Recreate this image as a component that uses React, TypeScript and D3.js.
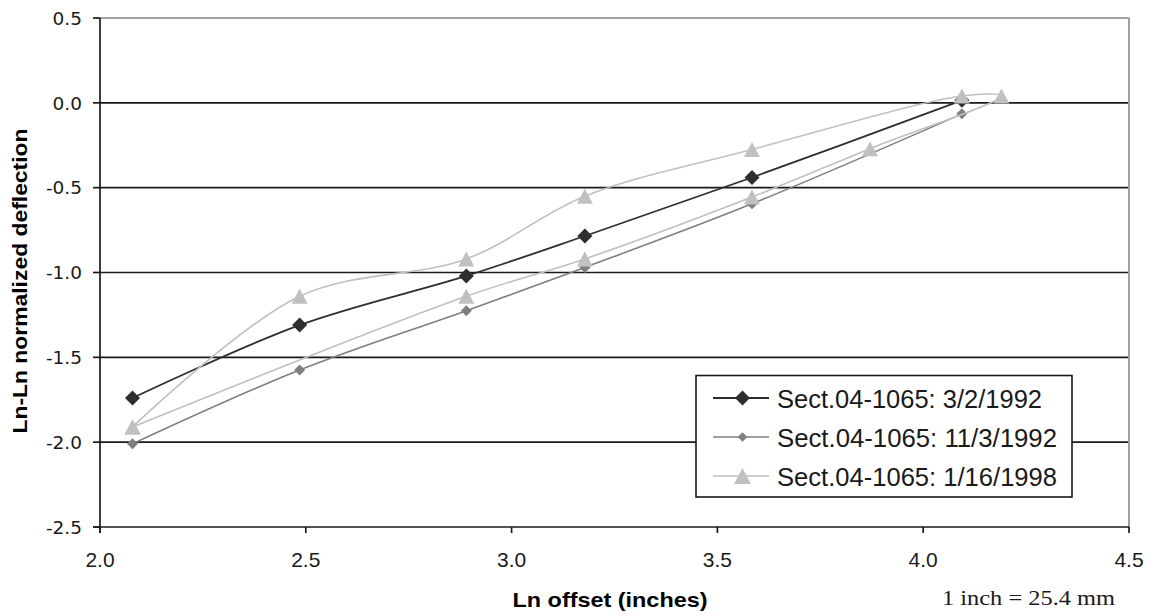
import React from 'react';
import * as d3 from 'd3';

const xTicks = [2.0, 2.5, 3.0, 3.5, 4.0, 4.5];
const yTicks = [0.5, 0.0, -0.5, -1.0, -1.5, -2.0, -2.5];

const seriesNames = [
  'Sect.04-1065: 3/2/1992',
  'Sect.04-1065: 11/3/1992',
  'Sect.04-1065: 1/16/1998',
];

const s1X = [2.079, 2.485, 2.89, 3.178, 3.584, 4.094];
const s1Y = [-1.74, -1.31, -1.02, -0.785, -0.44, 0.015];

const s2X = [2.079, 2.485, 2.89, 3.178, 3.584, 4.094];
const s2Y = [-2.01, -1.575, -1.225, -0.97, -0.595, -0.065];

const s3X = [2.079, 2.485, 2.89, 3.178, 3.584, 4.094, 4.19, 3.871, 3.584, 3.178, 2.89, 2.079];
const s3Y = [-1.91, -1.14, -0.92, -0.55, -0.275, 0.04, 0.04, -0.27, -0.555, -0.92, -1.14, -1.91];

const xTitle = 'Ln offset (inches)';
const yTitle = 'Ln-Ln normalized deflection';
const note = '1 inch = 25.4 mm';

const W = 1150;
const H = 616;
const L = 100;
const R = 1129;
const T = 18;
const B = 527;

const x = d3.scaleLinear().domain([2, 4.5]).range([L, R]);
const y = d3.scaleLinear().domain([-2.5, 0.5]).range([B, T]);

const line = d3
  .line<[number, number]>()
  .x((d) => x(d[0]))
  .y((d) => y(d[1]))
  .curve(d3.curveCatmullRom.alpha(0.5));

const zip = (xs: number[], ys: number[]) => xs.map((v, i) => [v, ys[i]] as [number, number]);

const diamond = (cx: number, cy: number, r: number) =>
  `M${cx},${cy - r}L${cx + r},${cy}L${cx},${cy + r}L${cx - r},${cy}Z`;
const triangle = (cx: number, cy: number, hw: number, hh: number) =>
  `M${cx},${cy - hh}L${cx + hw},${cy + hh}L${cx - hw},${cy + hh}Z`;

const C1 = '#2e2e2e';
const C2 = '#7f7f7f';
const C3 = '#c0c0c0';

const fmt = (v: number) => d3.format('.1f')(v).replace('\u2212', '-');

export default function App() {
  const d1 = zip(s1X, s1Y);
  const d2 = zip(s2X, s2Y);
  const d3s = zip(s3X, s3Y);

  const legX = 696;
  const legY = 375.5;
  const legW = 376;
  const legH = 121.5;
  const rowY = [398, 437, 476];

  return (
    <div style={{ position: 'fixed', left: 0, top: 0, width: W, height: H, background: '#fff' }}>
      <svg width={W} height={H} style={{ display: 'block' }}>
        <rect x={0} y={0} width={W} height={H} fill="#fff" />
        {yTicks
          .filter((t) => t > -2.5 && t < 0.5)
          .map((t) => (
            <line key={'g' + t} x1={L} x2={R} y1={y(t)} y2={y(t)} stroke="#1a1a1a" strokeWidth={1.7} />
          ))}
        <line x1={L} x2={R} y1={T} y2={T} stroke="#a0a0a0" strokeWidth={2} />
        <line x1={R} x2={R} y1={T} y2={B} stroke="#a0a0a0" strokeWidth={2} />
        <line x1={L} x2={L} y1={T} y2={B + 6} stroke="#1a1a1a" strokeWidth={1.7} />
        <line x1={L - 7} x2={R} y1={B} y2={B} stroke="#1a1a1a" strokeWidth={1.7} />
        {yTicks.map((t) => (
          <g key={'yt' + t}>
            <line x1={L - 7} x2={L} y1={y(t)} y2={y(t)} stroke="#1a1a1a" strokeWidth={1.7} />
            <text
              x={82}
              y={y(t) + 6.7}
              textAnchor="end"
              fontFamily="DejaVu Sans"
              fontSize={18.5}
              fill="#1a1a1a"
            >
              {fmt(t)}
            </text>
          </g>
        ))}
        {xTicks.map((t) => (
          <g key={'xt' + t}>
            <line x1={x(t)} x2={x(t)} y1={B} y2={B + 6} stroke="#1a1a1a" strokeWidth={1.7} />
            <text
              x={x(t)}
              y={567}
              textAnchor="middle"
              fontFamily="Liberation Sans, Arial"
              fontSize={21}
              fill="#1a1a1a"
            >
              {fmt(t)}
            </text>
          </g>
        ))}
        <path d={line(d1) || ''} fill="none" stroke={C1} strokeWidth={1.8} />
        {d1.map((d, i) => (
          <path key={'m1' + i} d={diamond(x(d[0]), y(d[1]), 7.5)} fill={C1} />
        ))}
        <path d={line(d2) || ''} fill="none" stroke={C2} strokeWidth={1.6} />
        {d2.map((d, i) => (
          <path key={'m2' + i} d={diamond(x(d[0]), y(d[1]), 5.5)} fill={C2} />
        ))}
        <path d={line(d3s) || ''} fill="none" stroke={C3} strokeWidth={1.6} />
        {d3s.map((d, i) => (
          <path key={'m3' + i} d={triangle(x(d[0]), y(d[1]), 8, 7.5)} fill={C3} />
        ))}
        <rect x={legX} y={legY} width={legW} height={legH} fill="#fff" stroke="#1a1a1a" strokeWidth={1.6} />
        {seriesNames.map((n, i) => {
          const cy = rowY[i];
          const col = [C1, C2, C3][i];
          return (
            <g key={'lg' + i}>
              <line x1={713} x2={769} y1={cy} y2={cy} stroke={col} strokeWidth={i === 0 ? 1.8 : 1.6} />
              {i === 0 && <path d={diamond(742.5, cy, 7.5)} fill={C1} />}
              {i === 1 && <path d={diamond(742.5, cy, 4.8)} fill={C2} />}
              {i === 2 && <path d={triangle(742.5, cy, 8.5, 8)} fill={C3} />}
              <text
                x={777}
                y={cy + 9.5}
                fontFamily="Liberation Sans, Arial"
                fontSize={25.5}
                fill="#1a1a1a"
                textLength={i === 0 ? 265 : 280}
                lengthAdjust="spacingAndGlyphs"
              >
                {n}
              </text>
            </g>
          );
        })}
        <text
          x={610}
          y={607}
          textAnchor="middle"
          fontFamily="Liberation Sans, Arial"
          fontWeight="bold"
          fontSize={21}
          fill="#000"
          textLength={195}
          lengthAdjust="spacingAndGlyphs"
        >
          {xTitle}
        </text>
        <text
          transform="translate(26.5,281) rotate(-90)"
          textAnchor="middle"
          fontFamily="Liberation Sans, Arial"
          fontWeight="bold"
          fontSize={21}
          fill="#000"
          textLength={305}
          lengthAdjust="spacingAndGlyphs"
        >
          {yTitle}
        </text>
        <text
          x={942}
          y={605}
          fontFamily="Liberation Serif, Times New Roman"
          fontSize={22}
          fill="#1a1a1a"
          textLength={173}
          lengthAdjust="spacingAndGlyphs"
        >
          {note}
        </text>
      </svg>
    </div>
  );
}
